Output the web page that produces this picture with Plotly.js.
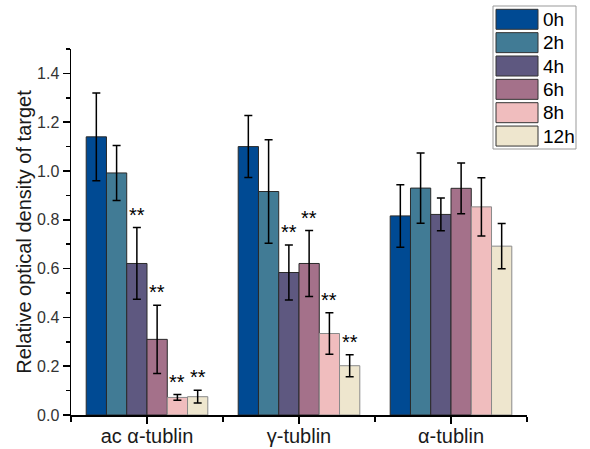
<!DOCTYPE html>
<html>
<head>
<meta charset="utf-8">
<script src="https://cdn.plot.ly/plotly-3.0.1.min.js"></script>
<style>html,body{margin:0;padding:0;background:#fff;}#chart{width:590px;height:449px;}</style>
</head>
<body>
<div id="chart"></div>
<script>
// ---- data ----
var categories = ["ac α-tublin", "γ-tublin", "α-tublin"];
var seriesNames = ["0h", "2h", "4h", "6h", "8h", "12h"];
var values_0h  = [1.14, 1.10, 0.816];
var values_2h  = [0.992, 0.916, 0.930];
var values_4h  = [0.621, 0.584, 0.822];
var values_6h  = [0.310, 0.621, 0.929];
var values_8h  = [0.072, 0.334, 0.853];
var values_12h = [0.075, 0.202, 0.692];
var err_0h  = [0.18, 0.127, 0.128];
var err_2h  = [0.113, 0.212, 0.144];
var err_4h  = [0.147, 0.113, 0.067];
var err_6h  = [0.14, 0.135, 0.104];
var err_8h  = [0.012, 0.085, 0.119];
var err_12h = [0.026, 0.045, 0.093];
// significance marks per series (per category)
var sig_0h  = ["", "", ""];
var sig_2h  = ["", "", ""];
var sig_4h  = ["**", "**", ""];
var sig_6h  = ["**", "**", ""];
var sig_8h  = ["**", "**", ""];
var sig_12h = ["**", "**", ""];

var allValues = [values_0h, values_2h, values_4h, values_6h, values_8h, values_12h];
var allErrs = [err_0h, err_2h, err_4h, err_6h, err_8h, err_12h];
var allSig = [sig_0h, sig_2h, sig_4h, sig_6h, sig_8h, sig_12h];

// ---- styles ----
var colors = ["#004A93", "#417B95", "#5E5880", "#A4718A", "#F0BDBE", "#EEE6CE"];
var lineColors = ["#2a2a2a", "#2a2a2a", "#2a2a2a", "#2a2a2a", "#8a8a8a", "#8a8a8a"];
var FONT = "Liberation Sans, Arial, sans-serif";
var TXT = "#1a1a1a";

var xIdx = categories.map(function(_, i){ return i; });
var groupWidth = 0.8, nS = seriesNames.length, bw = groupWidth / nS;

var traces = seriesNames.map(function(name, s){
  return {
    type: "bar", name: name, x: xIdx, y: allValues[s],
    marker: {color: colors[s], line: {color: lineColors[s], width: 1}},
    error_y: {type: "data", array: allErrs[s], visible: true, color: "#000", thickness: 1.5, width: 4},
    showlegend: false
  };
});

var annotations = [];
allSig.forEach(function(sig, s){
  sig.forEach(function(t, c){
    if (!t) return;
    annotations.push({
      x: c + (s - (nS - 1) / 2) * bw, y: allValues[s][c] + allErrs[s][c],
      xref: "x", yref: "y", text: t, showarrow: false, yanchor: "bottom", yshift: 0,
      font: {family: FONT, size: 20, color: "#000"}
    });
  });
});

// manual legend (pixel layout converted to paper)
var L = 71, R = 527, T = 49, B = 415;
function px(x){ return (x - L) / (R - L); }
function py(y){ return (B - y) / (B - T); }
var shapes = [{type: "rect", xref: "paper", yref: "paper", x0: px(493), x1: px(576), y0: py(149), y1: py(6),
  line: {color: "#999", width: 1}, fillcolor: "#fff"}];
seriesNames.forEach(function(name, s){
  var cy = 19.3 + s * 23.35;
  shapes.push({type: "rect", xref: "paper", yref: "paper", x0: px(496), x1: px(538), y0: py(cy + 10), y1: py(cy - 10),
    line: {color: "#333", width: 1}, fillcolor: colors[s]});
  annotations.push({xref: "paper", yref: "paper", x: px(541), y: py(cy), xanchor: "left", yanchor: "middle",
    text: name, showarrow: false, font: {family: FONT, size: 19, color: "#000"}});
});

var layout = {
  width: 590, height: 449,
  margin: {l: L, r: 590 - R, t: T, b: 449 - B, pad: 0},
  paper_bgcolor: "#fff", plot_bgcolor: "#fff",
  barmode: "group", bargap: 0.2, bargroupgap: 0,
  font: {family: FONT, color: TXT},
  xaxis: {
    range: [-0.5, 2.5], tickmode: "array", tickvals: xIdx, ticktext: categories,
    showline: true, linecolor: "#000", linewidth: 1.5, ticks: "outside", ticklen: 7, tickwidth: 1.5, tickcolor: "#000",
    showgrid: false, zeroline: false, tickfont: {family: FONT, size: 20, color: TXT}, ticklabelstandoff: -5,
    minor: {tickmode: "array", tickvals: [-0.5, 0.5, 1.5, 2.5], ticks: "outside", ticklen: 5, tickwidth: 1.5, tickcolor: "#000"}
  },
  yaxis: {
    range: [0, 1.5], tick0: 0, dtick: 0.2, tickformat: ".1f",
    showline: true, linecolor: "#000", linewidth: 1.5, ticks: "outside", ticklen: 7, tickwidth: 1.5, tickcolor: "#000",
    showgrid: false, zeroline: false, tickfont: {family: FONT, size: 16, color: "#333"},
    minor: {dtick: 0.1, tick0: 0, ticks: "outside", ticklen: 4, tickwidth: 1.5, tickcolor: "#000"},
    title: {text: "Relative optical density of target", font: {family: FONT, size: 20, color: TXT}, standoff: 0}
  },
  shapes: shapes, annotations: annotations
};

Plotly.newPlot("chart", traces, layout, {displayModeBar: false, staticPlot: true});
</script>
</body>
</html>
